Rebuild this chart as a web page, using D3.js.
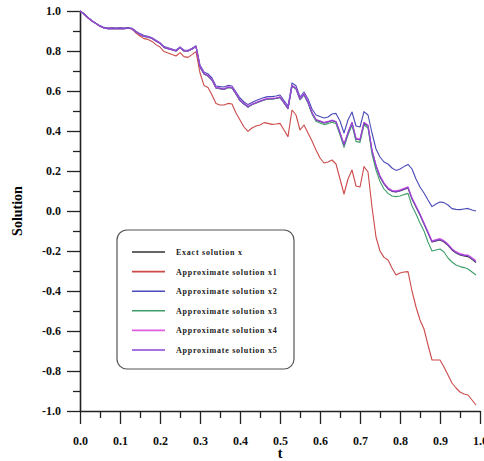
<!DOCTYPE html>
<html>
<head>
<meta charset="utf-8">
<script src="https://cdn.jsdelivr.net/npm/d3@7"></script>
<style>
  html, body { margin: 0; padding: 0; background: #fff; }
  svg { display: block; }
  .tick text { font-family: "Liberation Serif", "Times New Roman", serif; font-weight: bold; }
</style>
</head>
<body>
<svg id="chart" width="484" height="461"></svg>
<script>
// Time grid
const tValues = [
  0.00,0.01,0.02,0.03,0.04,0.05,0.06,0.07,0.08,0.09,
  0.10,0.11,0.12,0.13,0.14,0.15,0.16,0.17,0.18,0.19,
  0.20,0.21,0.22,0.23,0.24,0.25,0.26,0.27,0.28,0.29,
  0.30,0.31,0.32,0.33,0.34,0.35,0.36,0.37,0.38,0.39,
  0.40,0.41,0.42,0.43,0.44,0.45,0.46,0.47,0.48,0.49,
  0.50,0.51,0.52,0.53,0.54,0.55,0.56,0.57,0.58,0.59,
  0.60,0.61,0.62,0.63,0.64,0.65,0.66,0.67,0.68,0.69,
  0.70,0.71,0.72,0.73,0.74,0.75,0.76,0.77,0.78,0.79,
  0.80,0.81,0.82,0.83,0.84,0.85,0.86,0.87,0.88,0.89,
  0.90,0.91,0.92,0.93,0.94,0.95,0.96,0.97,0.98,0.99
];

// Exact solution x
const exactX = [
  1.000,0.985,0.966,0.950,0.937,0.924,0.915,0.912,0.913,0.912,
  0.913,0.912,0.914,0.911,0.895,0.883,0.873,0.870,0.862,0.850,
  0.838,0.818,0.812,0.806,0.800,0.817,0.800,0.800,0.810,0.822,
  0.720,0.685,0.675,0.655,0.615,0.612,0.608,0.618,0.615,0.585,
  0.552,0.535,0.520,0.532,0.540,0.548,0.555,0.560,0.560,0.563,
  0.568,0.540,0.512,0.625,0.612,0.558,0.583,0.543,0.490,0.455,
  0.448,0.440,0.445,0.452,0.445,0.390,0.330,0.390,0.440,0.360,
  0.355,0.440,0.425,0.300,0.225,0.170,0.135,0.110,0.098,0.095,
  0.100,0.108,0.115,0.060,0.020,-0.020,-0.065,-0.110,-0.155,-0.150,
  -0.145,-0.155,-0.172,-0.195,-0.210,-0.220,-0.225,-0.228,-0.242,-0.258
];

// Approximate solution x1
const approxX1 = [
  1.000,0.985,0.966,0.950,0.937,0.924,0.916,0.914,0.915,0.914,
  0.915,0.914,0.915,0.910,0.890,0.875,0.862,0.858,0.848,0.832,
  0.820,0.797,0.790,0.782,0.775,0.792,0.772,0.768,0.782,0.797,
  0.690,0.628,0.618,0.580,0.538,0.530,0.530,0.538,0.535,0.490,
  0.455,0.420,0.398,0.415,0.425,0.430,0.442,0.438,0.433,0.435,
  0.438,0.405,0.372,0.505,0.480,0.405,0.430,0.390,0.350,0.305,
  0.265,0.240,0.245,0.255,0.235,0.160,0.085,0.160,0.205,0.125,
  0.120,0.222,0.195,0.020,-0.130,-0.200,-0.232,-0.245,-0.285,-0.320,
  -0.310,-0.305,-0.303,-0.400,-0.480,-0.545,-0.590,-0.670,-0.745,-0.745,
  -0.745,-0.780,-0.820,-0.860,-0.885,-0.905,-0.915,-0.920,-0.945,-0.970
];

// Approximate solution x2
const approxX2 = [
  1.000,0.986,0.968,0.952,0.939,0.927,0.918,0.915,0.916,0.915,
  0.916,0.915,0.917,0.914,0.899,0.887,0.877,0.874,0.866,0.854,
  0.842,0.822,0.816,0.810,0.804,0.821,0.804,0.804,0.814,0.826,
  0.730,0.695,0.685,0.665,0.625,0.622,0.620,0.628,0.625,0.595,
  0.565,0.545,0.532,0.542,0.552,0.560,0.567,0.572,0.572,0.575,
  0.580,0.552,0.525,0.640,0.626,0.570,0.595,0.560,0.510,0.480,
  0.472,0.465,0.470,0.485,0.488,0.450,0.390,0.455,0.495,0.425,
  0.420,0.497,0.480,0.390,0.310,0.270,0.245,0.235,0.215,0.203,
  0.210,0.222,0.233,0.210,0.160,0.120,0.090,0.055,0.022,0.035,
  0.045,0.042,0.030,0.012,0.008,0.007,0.010,0.013,0.005,0.000
];

// Approximate solution x3
const approxX3 = [
  1.000,0.985,0.966,0.950,0.937,0.924,0.915,0.912,0.913,0.912,
  0.913,0.912,0.914,0.911,0.895,0.883,0.873,0.870,0.862,0.850,
  0.838,0.818,0.812,0.806,0.800,0.817,0.800,0.800,0.810,0.822,
  0.720,0.685,0.675,0.655,0.615,0.612,0.608,0.618,0.615,0.585,
  0.552,0.535,0.520,0.532,0.540,0.548,0.555,0.560,0.560,0.563,
  0.568,0.540,0.512,0.624,0.610,0.556,0.580,0.540,0.485,0.449,
  0.440,0.432,0.437,0.444,0.437,0.380,0.318,0.380,0.430,0.348,
  0.343,0.430,0.415,0.285,0.205,0.147,0.110,0.088,0.075,0.072,
  0.075,0.082,0.088,0.025,-0.015,-0.060,-0.100,-0.155,-0.200,-0.195,
  -0.190,-0.205,-0.235,-0.255,-0.270,-0.278,-0.283,-0.290,-0.305,-0.320
];

// Approximate solution x4
const approxX4 = [
  1.000,0.985,0.966,0.950,0.937,0.924,0.915,0.912,0.913,0.912,
  0.913,0.912,0.914,0.911,0.896,0.884,0.874,0.871,0.863,0.851,
  0.839,0.819,0.813,0.807,0.801,0.818,0.801,0.801,0.811,0.823,
  0.722,0.688,0.678,0.658,0.618,0.615,0.611,0.621,0.618,0.588,
  0.555,0.538,0.523,0.535,0.543,0.551,0.558,0.563,0.563,0.566,
  0.571,0.543,0.515,0.628,0.615,0.561,0.586,0.546,0.493,0.458,
  0.451,0.443,0.448,0.455,0.448,0.393,0.334,0.394,0.444,0.364,
  0.359,0.444,0.429,0.305,0.230,0.176,0.141,0.116,0.104,0.101,
  0.106,0.114,0.121,0.066,0.026,-0.014,-0.059,-0.104,-0.149,-0.143,
  -0.138,-0.148,-0.165,-0.188,-0.203,-0.213,-0.218,-0.220,-0.234,-0.248
];

// Approximate solution x5
const approxX5 = [
  1.000,0.985,0.966,0.950,0.937,0.924,0.915,0.912,0.913,0.912,
  0.913,0.912,0.914,0.911,0.895,0.883,0.873,0.870,0.862,0.850,
  0.838,0.818,0.812,0.806,0.800,0.817,0.800,0.800,0.810,0.822,
  0.721,0.686,0.676,0.656,0.616,0.613,0.609,0.619,0.616,0.586,
  0.553,0.536,0.521,0.533,0.541,0.549,0.556,0.561,0.561,0.564,
  0.569,0.541,0.513,0.626,0.613,0.559,0.584,0.544,0.491,0.456,
  0.449,0.441,0.446,0.453,0.446,0.391,0.331,0.391,0.441,0.361,
  0.356,0.441,0.426,0.302,0.227,0.172,0.137,0.112,0.100,0.097,
  0.102,0.110,0.117,0.062,0.022,-0.018,-0.063,-0.108,-0.153,-0.147,
  -0.142,-0.152,-0.169,-0.192,-0.207,-0.217,-0.222,-0.224,-0.238,-0.253
];

const seriesNames = [
  "Exact solution x",
  "Approximate solution x1",
  "Approximate solution x2",
  "Approximate solution x3",
  "Approximate solution x4",
  "Approximate solution x5"
];
const seriesValues = [exactX, approxX1, approxX2, approxX3, approxX4, approxX5];
const seriesColors = ["#333333", "#cc4a4a", "#4a4ab8", "#3f9e68", "#e05ce0", "#8a45d6"];

const xTickLabels = [0.0,0.1,0.2,0.3,0.4,0.5,0.6,0.7,0.8,0.9,1.0];
const xMinorTicks = [0.05,0.15,0.25,0.35,0.45,0.55,0.65,0.75,0.85,0.95];
const yTickLabels = [-1.0,-0.8,-0.6,-0.4,-0.2,0.0,0.2,0.4,0.6,0.8,1.0];
const yMinorTicks = [-0.9,-0.7,-0.5,-0.3,-0.1,0.1,0.3,0.5,0.7,0.9];

const svg = d3.select("#chart");
const x = d3.scaleLinear().domain([0, 1]).range([80, 480]);
const y = d3.scaleLinear().domain([-1, 1]).range([411, 11]);
const serif = '"Liberation Serif", "Times New Roman", serif';
// plain hyphen for negatives, one decimal
const fmt = d => (Math.abs(d) < 1e-9 ? 0 : d).toFixed(1);

// Minor ticks
svg.append("g")
  .attr("transform", `translate(0,${y(-1)})`)
  .call(d3.axisBottom(x).tickValues(xMinorTicks).tickSize(7).tickFormat(""))
  .call(g => g.select(".domain").remove())
  .call(g => g.selectAll("line").attr("stroke", "#222").attr("stroke-width", 1.3));
svg.append("g")
  .attr("transform", `translate(${x(0)},0)`)
  .call(d3.axisLeft(y).tickValues(yMinorTicks).tickSize(7).tickFormat(""))
  .call(g => g.select(".domain").remove())
  .call(g => g.selectAll("line").attr("stroke", "#222").attr("stroke-width", 1.3));

// Major axes
svg.append("g")
  .attr("transform", `translate(0,${y(-1)})`)
  .call(d3.axisBottom(x).tickValues(xTickLabels).tickSize(13).tickSizeOuter(0).tickPadding(12)
        .tickFormat(fmt))
  .call(g => g.select(".domain").attr("stroke", "#222").attr("stroke-width", 1.6))
  .call(g => g.selectAll("line").attr("stroke", "#222").attr("stroke-width", 1.3))
  .call(g => g.selectAll("text").attr("font-size", 12).attr("fill", "#111"));
svg.append("g")
  .attr("transform", `translate(${x(0)},0)`)
  .call(d3.axisLeft(y).tickValues(yTickLabels).tickSize(13).tickSizeOuter(0).tickPadding(6)
        .tickFormat(fmt))
  .call(g => g.select(".domain").attr("stroke", "#222").attr("stroke-width", 1.6))
  .call(g => g.selectAll("line").attr("stroke", "#222").attr("stroke-width", 1.3))
  .call(g => g.selectAll("text").attr("font-size", 12).attr("fill", "#111"));

// Axis titles
svg.append("text")
  .attr("x", x(0.5)).attr("y", 458)
  .attr("text-anchor", "middle")
  .attr("font-family", serif).attr("font-weight", "bold").attr("font-size", 14)
  .text("t");
svg.append("text")
  .attr("transform", `translate(22,${y(0)}) rotate(-90)`)
  .attr("text-anchor", "middle")
  .attr("font-family", serif).attr("font-weight", "bold").attr("font-size", 14)
  .text("Solution");

// Solution curves
const line = d3.line().x((d, i) => x(tValues[i])).y(d => y(d));
seriesValues.forEach((vals, k) => {
  svg.append("path")
    .datum(vals)
    .attr("fill", "none")
    .attr("stroke", seriesColors[k])
    .attr("stroke-width", 1.1)
    .attr("stroke-linejoin", "round")
    .attr("d", line);
});

// Legend
const legend = svg.append("g");
legend.append("rect")
  .attr("x", 117).attr("y", 230).attr("width", 177).attr("height", 139)
  .attr("rx", 10).attr("ry", 10)
  .attr("fill", "#fff").attr("stroke", "#555").attr("stroke-width", 1.2);
seriesNames.forEach((name, k) => {
  const ly = 252 + k * 19.6;
  legend.append("line")
    .attr("x1", 132).attr("x2", 165).attr("y1", ly).attr("y2", ly)
    .attr("stroke", seriesColors[k]).attr("stroke-width", 1.6);
  legend.append("text")
    .attr("x", 176).attr("y", ly + 3)
    .attr("font-family", serif).attr("font-weight", "bold").attr("font-size", 8)
    .attr("letter-spacing", 0.75)
    .attr("fill", "#222")
    .text(name);
});
</script>
</body>
</html>
